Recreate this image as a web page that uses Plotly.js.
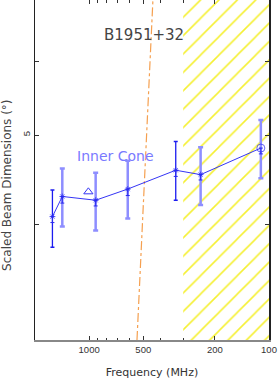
<!DOCTYPE html>
<html>
<head>
<meta charset="utf-8">
<script src="https://cdn.plot.ly/plotly-3.0.1.min.js"></script>
<style>html,body{margin:0;padding:0;background:#fff;}#chart{width:278px;height:379px;}</style>
</head>
<body>
<div id="chart"></div>
<script>
// ---- data ----
const freqMHz   = [1600, 1410, 920, 610, 330, 240, 111];
const beamDeg   = [4.08, 4.29, 4.25, 4.37, 4.58, 4.53, 4.84];
const errPlus   = [0.28, 0.31, 0.30, 0.32, 0.34, 0.32, 0.35];
const errMinus  = [0.30, 0.31, 0.31, 0.31, 0.33, 0.33, 0.35];
const innerMinus= [0.06, 0.07, 0.06, 0.07, 0.07, 0.06, 0.07];
const thinBarIdx = [0, 4];            // points drawn with thin dark error bars
const triFreq = [1010], triBeam = [4.34];
const hatchFreq = [300, 100];          // shaded band
const pulsarLineFreq = [542, 442];     // B1951+32 line (bottom, top)
const yRange = [3, 7];
const xRange = [2000, 100];
const xTickVals = [1000, 500, 200, 100];
const xTickText = ['1000', '500', '200', '100'];
const xMinorVals = [900, 800, 700, 600, 400, 300];
const yTickVals = [4, 5, 6];
const yTickText = ['', '5', ''];

const pick = (arr, idx) => idx.map(i => arr[i]);
const allIdx = freqMHz.map((_, i) => i);
const thickIdx = allIdx.filter(i => !thinBarIdx.includes(i));

const traces = [
  { // hatched band
    x: [hatchFreq[0], hatchFreq[1], hatchFreq[1], hatchFreq[0], hatchFreq[0]],
    y: [yRange[0], yRange[0], yRange[1], yRange[1], yRange[0]],
    mode: 'lines', fill: 'toself', line: {width: 0, color: 'rgba(0,0,0,0)'},
    fillcolor: 'rgba(0,0,0,0)',
    fillpattern: {shape: '/', fgcolor: '#f5f032', bgcolor: 'rgba(255,255,255,0)', size: 13, solidity: 0.12},
    hoverinfo: 'skip'
  },
  { // B1951+32 line
    x: pulsarLineFreq, y: yRange, mode: 'lines',
    line: {color: '#f5a050', width: 1.2, dash: 'dashdot'}
  },
  { // thick light error bars
    x: pick(freqMHz, thickIdx), y: pick(beamDeg, thickIdx), mode: 'markers',
    marker: {size: 1, color: 'rgba(0,0,0,0)'},
    error_y: {type: 'data', symmetric: false, array: pick(errPlus, thickIdx), arrayminus: pick(errMinus, thickIdx),
              color: '#8e8eff', thickness: 2.5, width: 2.5}
  },
  { // thin dark error bars
    x: pick(freqMHz, thinBarIdx), y: pick(beamDeg, thinBarIdx), mode: 'markers',
    marker: {size: 1, color: 'rgba(0,0,0,0)'},
    error_y: {type: 'data', symmetric: false, array: pick(errPlus, thinBarIdx), arrayminus: pick(errMinus, thinBarIdx),
              color: '#1c1cf0', thickness: 1.3, width: 2}
  },
  { // small inner ticks
    x: freqMHz, y: beamDeg, mode: 'markers',
    marker: {size: 1, color: 'rgba(0,0,0,0)'},
    error_y: {type: 'data', symmetric: false, array: freqMHz.map(() => 0), arrayminus: innerMinus,
              color: '#2a2af0', thickness: 1, width: 2}
  },
  { // main connected series
    x: freqMHz, y: beamDeg, mode: 'lines+markers',
    line: {color: '#3535f5', width: 1},
    marker: {
      symbol: freqMHz.map((_, i) => i === freqMHz.length - 1 ? 'circle-open' : 'asterisk-open'),
      size: freqMHz.map((_, i) => i === freqMHz.length - 1 ? 8 : 5),
      color: '#2a2af0', line: {color: '#2a2af0', width: 1}
    }
  },
  { // triangle point
    x: triFreq, y: triBeam, mode: 'markers',
    marker: {symbol: 'triangle-up-open', size: 8, color: '#3535f5', line: {width: 1, color: '#3535f5'}}
  }
];

const tickFont = {family: 'Liberation Sans, Arial, sans-serif', size: 9.5, color: '#333'};
const layout = {
  width: 278, height: 379,
  margin: {l: 35, r: 9, t: 0, b: 39},
  paper_bgcolor: '#fff', plot_bgcolor: '#fff',
  showlegend: false,
  xaxis: {
    type: 'log', range: [Math.log10(xRange[0]), Math.log10(xRange[1])],
    tickmode: 'array', tickvals: xTickVals, ticktext: xTickText,
    ticks: 'inside', ticklen: 4, tickwidth: 1, tickcolor: '#333',
    minor: {tickmode: 'array', tickvals: xMinorVals, ticks: 'inside', ticklen: 2.5, tickcolor: '#333', tickwidth: 1, showgrid: false},
    showgrid: false, zeroline: false,
    showline: true, linecolor: '#888', linewidth: 2, mirror: 'ticks',
    tickfont: tickFont,
    title: {text: 'Frequency (MHz)', font: {family: 'DejaVu Sans, sans-serif', size: 11, color: '#333'}, standoff: 16}
  },
  yaxis: {
    type: 'log', range: [Math.log10(yRange[0]), Math.log10(yRange[1])],
    tickmode: 'array', tickvals: yTickVals, ticktext: yTickText, tickangle: -90,
    ticks: 'inside', ticklen: 4, tickwidth: 1, tickcolor: '#333',
    showgrid: false, zeroline: false,
    showline: true, linecolor: '#222', linewidth: 1.5, mirror: 'ticks',
    tickfont: tickFont
  },
  annotations: [
    {text: 'Scaled Beam Dimensions (°)', xref: 'paper', yref: 'paper', x: -0.12, y: 0.456,
     textangle: -90, showarrow: false, xanchor: 'center', yanchor: 'middle',
     font: {family: 'DejaVu Sans, sans-serif', size: 12, color: '#444'}},
    {text: 'B1951+32', xref: 'paper', yref: 'paper', x: (144 - 35) / 234, y: 1 - 35 / 340,
     showarrow: false, xanchor: 'center', yanchor: 'middle',
     font: {family: 'DejaVu Sans, sans-serif', size: 15, color: '#444'}},
    {text: 'Inner Cone', xref: 'paper', yref: 'paper', x: (115 - 35) / 234, y: 1 - 156 / 340,
     showarrow: false, xanchor: 'center', yanchor: 'middle',
     font: {family: 'DejaVu Sans, sans-serif', size: 14, color: '#7a7aff'}}
  ]
};

Plotly.newPlot('chart', traces, layout, {staticPlot: true, displayModeBar: false});
</script>
</body>
</html>
